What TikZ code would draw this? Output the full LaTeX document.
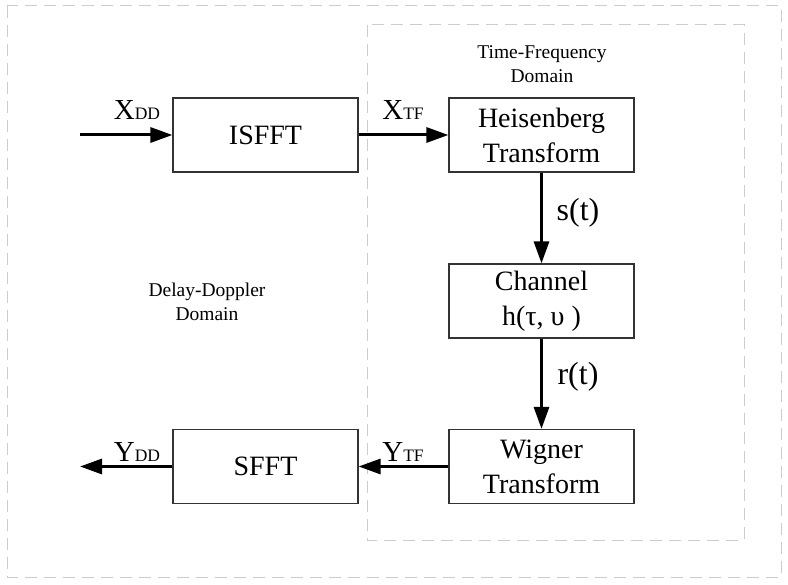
\documentclass[tikz,border=0pt]{standalone}
\usepackage{fontspec}
\setmainfont{Liberation Serif}
\usetikzlibrary{arrows.meta}
\definecolor{dashgray}{HTML}{CCCCCC}
\definecolor{boxline}{HTML}{333333}
\tikzset{
  blockbox/.style={draw=boxline, line width=1.2pt, minimum width=185pt, minimum height=74pt, inner sep=0pt, align=center, font=\fontsize{28}{35}\selectfont},
  flow/.style={line width=3pt, -{Triangle[length=22pt,width=15pt]}},
  domainbox/.style={draw=dashgray, line width=1pt, dash pattern=on 12pt off 7pt},
  domaintext/.style={align=center, font=\fontsize{19.5}{24}\selectfont},
  siglabel/.style={font=\fontsize{29}{34}\selectfont, inner sep=0pt},
  sublabel/.style={font=\fontsize{32}{36}\selectfont, inner sep=0pt}
}
\newcommand{\sigsub}[2]{#1{\fontsize{17.5}{20}\selectfont #2}}
\begin{document}
\begin{tikzpicture}[x=1pt,y=-1pt]
\useasboundingbox (0,0) rectangle (788,585);
% domain boxes
\draw[domainbox] (7,6) rectangle (781,577);
\draw[domainbox] (367,25) rectangle (744,540);
\node[domaintext] (tfdom) at (542,64) {Time-Frequency\\Domain};
\node[domaintext] (dddom) at (207,302) {Delay-Doppler\\Domain};
% blocks
\node[blockbox] (isfft) at (265.5,135) {ISFFT};
\node[blockbox] (heis) at (541.5,135) {Heisenberg\\Transform};
\node[blockbox] (chan) at (541.5,301) {Channel\\h(τ, υ )};
\node[blockbox] (wig) at (541.5,466.5) {Wigner\\Transform};
\node[blockbox] (sfft) at (265.5,466.5) {SFFT};
\coordinate (in) at (80,135);
\coordinate (out) at (80,466.5);
% connectors
\draw[flow] (in) -- (isfft.west);
\draw[flow] (isfft.east) -- (heis.west);
\draw[flow] (heis.south) -- (chan.north);
\draw[flow] (chan.south) -- (wig.north);
\draw[flow] (wig.west) -- (sfft.east);
\draw[flow] (sfft.west) -- (out);
% labels
\node[siglabel, anchor=base] (xdd) at (137,120) {\sigsub{X}{DD}};
\node[siglabel, anchor=base] (xtf) at (403,120) {\sigsub{X}{TF}};
\node[siglabel, anchor=base] (ydd) at (137,462) {\sigsub{Y}{DD}};
\node[siglabel, anchor=base] (ytf) at (403,462) {\sigsub{Y}{TF}};
\node[sublabel] (st) at (578,213) {s(t)};
\node[sublabel] (rt) at (578,377) {r(t)};
\end{tikzpicture}
\end{document}
